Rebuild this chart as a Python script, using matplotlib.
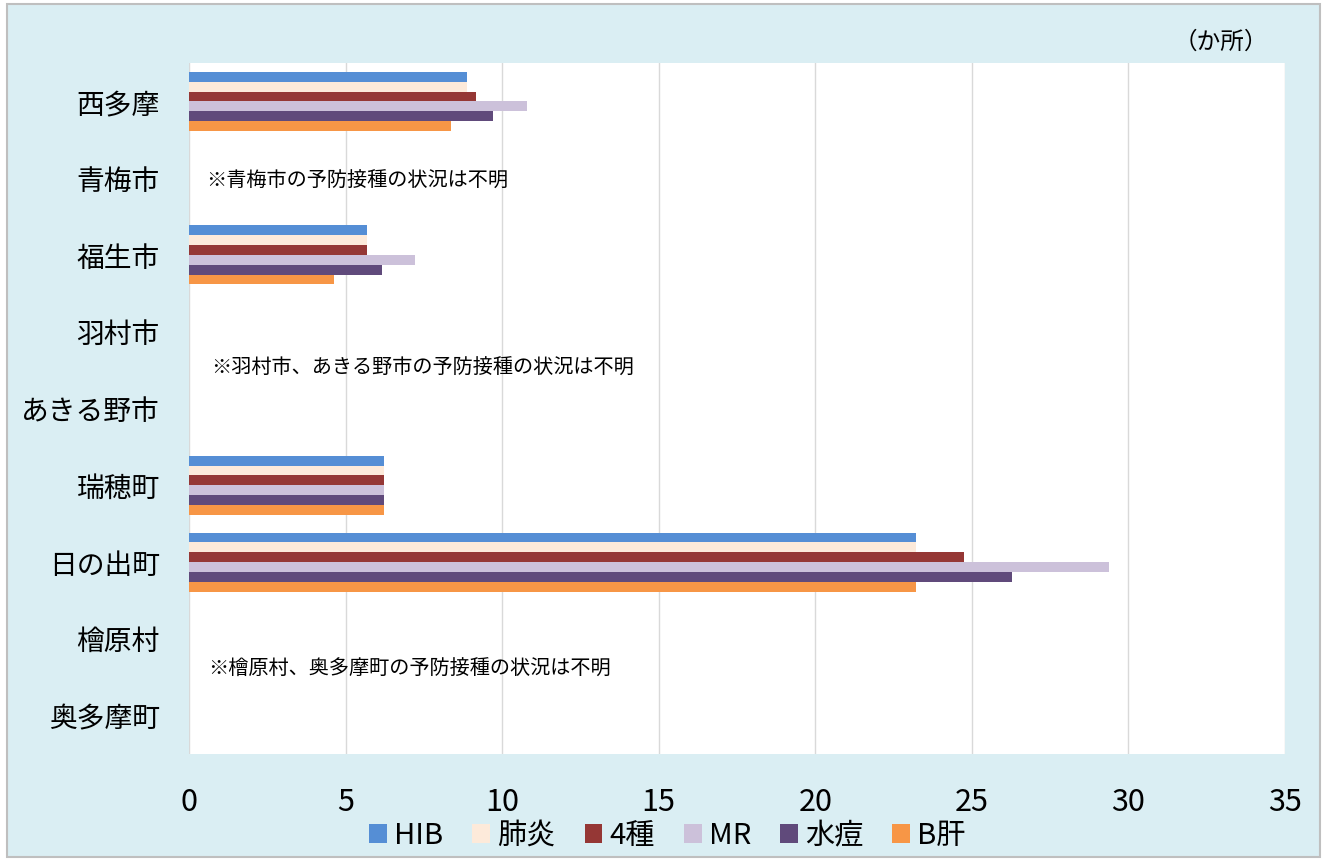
import matplotlib.pyplot as plt
from matplotlib.patches import Rectangle
import numpy as np

plt.rcParams['font.family'] = ['Noto Sans CJK JP', 'DejaVu Sans']

# Areas (top to bottom)
areas = ['西多摩', '青梅市', '福生市', '羽村市', 'あきる野市', '瑞穂町', '日の出町', '檜原村', '奥多摩町']
series = ['HIB', '肺炎', '4種', 'MR', '水痘', 'B肝']
colors = ['#558ED5', '#FDEADA', '#953735', '#CCC1DA', '#604A7B', '#F79646']
nan = np.nan

# Values per series (か所), nan where no data
hib = [8.88, nan, 5.67, nan, nan, 6.24, 23.2, nan, nan]
haien = [8.88, nan, 5.67, nan, nan, 6.24, 23.2, nan, nan]
yonshu = [9.16, nan, 5.67, nan, nan, 6.24, 24.75, nan, nan]
mr = [10.79, nan, 7.21, nan, nan, 6.24, 29.37, nan, nan]
suitou = [9.70, nan, 6.17, nan, nan, 6.24, 26.28, nan, nan]
bkan = [8.36, nan, 4.62, nan, nan, 6.24, 23.2, nan, nan]
values = [hib, haien, yonshu, mr, suitou, bkan]

notes = ['※青梅市の予防接種の状況は不明',
         '※羽村市、あきる野市の予防接種の状況は不明',
         '※檜原村、奥多摩町の予防接種の状況は不明']
note_pos = [(0.55, 1.04), (0.70, 3.48), (0.62, 7.40)]

fig = plt.figure(figsize=(13.27, 8.61), dpi=100, facecolor='white')
fig.patches.append(Rectangle((0.005, 0.005), 0.99, 0.99, transform=fig.transFigure,
                             facecolor='#DAEEF3', edgecolor='#BFBFBF', linewidth=1.5, zorder=-10))
ax = fig.add_axes([0.1424, 0.1243, 0.826, 0.8025])
ax.set_facecolor('white')

y = np.arange(len(areas))
h = 0.128
for j, (name, vals, c) in enumerate(zip(series, values, colors)):
    ax.barh(y + (j - 2.5) * h, vals, height=h, color=c, label=name, zorder=3)

ax.set_xlim(0, 35)
ax.set_ylim(len(areas) - 0.5, -0.5)
ax.set_xticks(range(0, 36, 5))
ax.set_yticks(y)
ax.set_yticklabels(areas)
ax.tick_params(axis='x', length=0, pad=24, labelsize=22)
ax.tick_params(axis='y', length=0, pad=21, labelsize=20)
ax.grid(axis='x', color='#D9D9D9', linewidth=1, zorder=0)
for s in ax.spines.values():
    s.set_visible(False)

for txt, (tx, ty) in zip(notes, note_pos):
    ax.text(tx, ty, txt, fontsize=14.5, va='center', ha='left')

fig.text(1268 / 1327, 1 - 42 / 861, '（か所）', fontsize=17, ha='right', va='center')

handles, labels = ax.get_legend_handles_labels()
fig.legend(handles, labels, loc='center', bbox_to_anchor=(0.503, 1 - 836 / 861), ncol=6,
           frameon=False, fontsize=21, handlelength=0.6, handleheight=0.6,
           handletextpad=0.25, columnspacing=1.0)

fig.savefig('out.png', dpi=100, facecolor=fig.get_facecolor())
